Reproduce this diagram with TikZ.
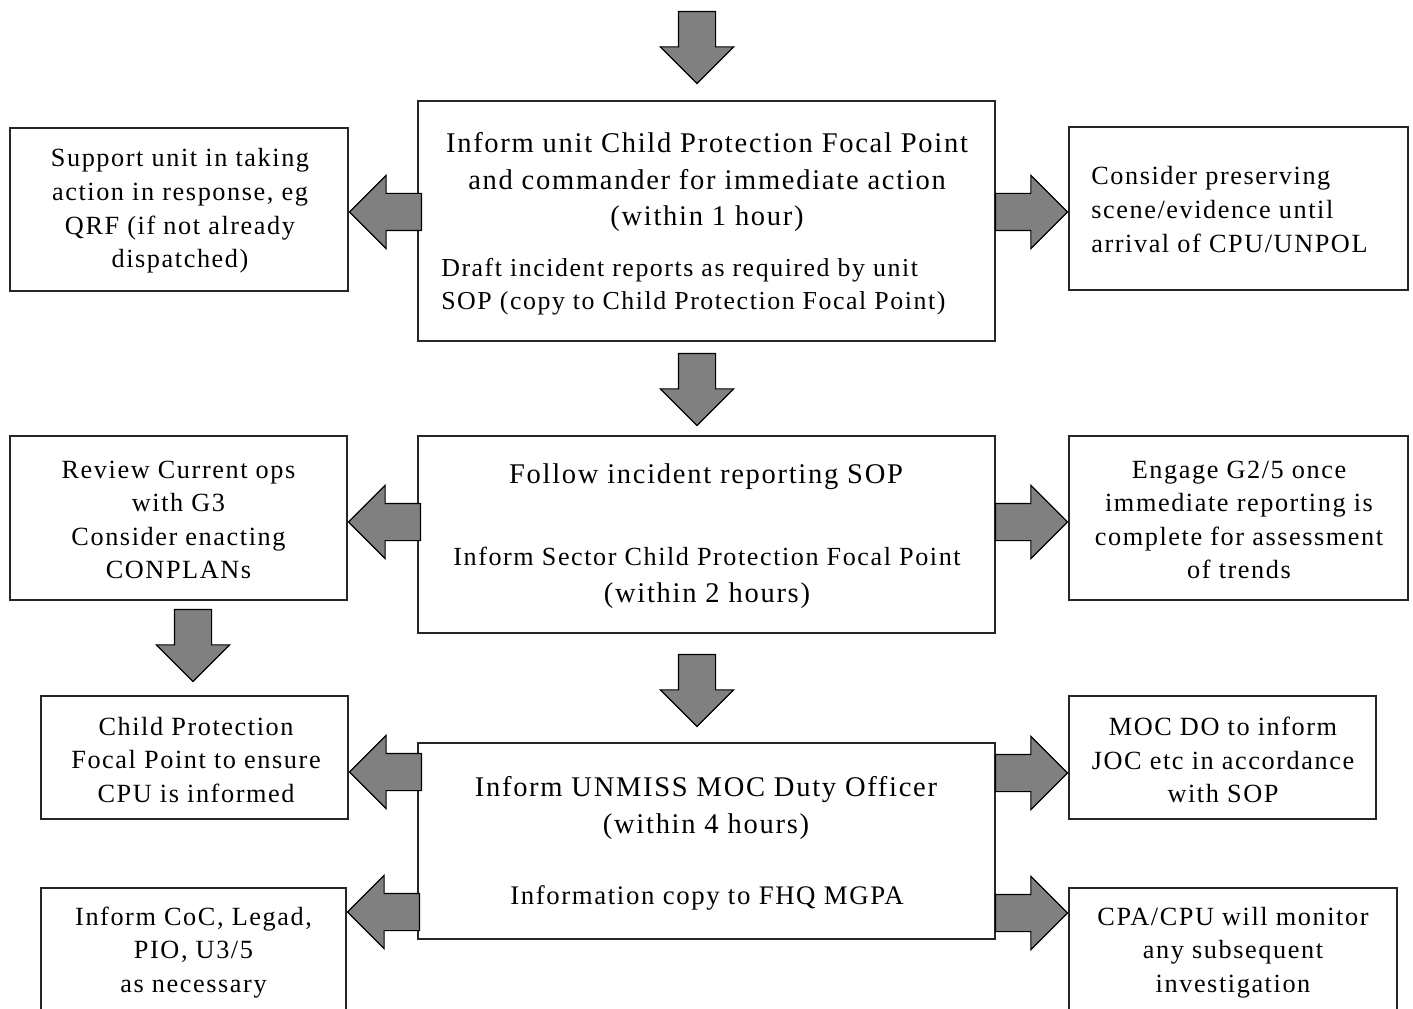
\documentclass[tikz,border=0pt]{standalone}
\usepackage{fontspec}
\setmainfont{Liberation Serif}[LetterSpace=6]
\usetikzlibrary{shapes.arrows, fit}
\definecolor{arrowgray}{RGB}{128,128,128}

\begin{document}
\begin{tikzpicture}[x=0.75pt,y=0.75pt,yscale=-1,xscale=1,
  box/.style={draw=black!85, line width=1pt, inner sep=0pt},
  blk/.style={single arrow, draw=black, fill=arrowgray, line width=0.9pt, inner sep=13.5pt, single arrow head extend=13.5pt, minimum height=54pt},
  larrow/.style={blk, shape border rotate=180, anchor=tip},
  rarrow/.style={blk, anchor=tip},
  darrow/.style={blk, shape border rotate=270, anchor=tip},
  maintxt/.style={inner sep=0pt, align=center, font=\fontsize{21.4}{27.4}\selectfont},
  sidetxt/.style={inner sep=0pt, align=center, font=\fontsize{19.7}{25.2}\selectfont}]
\clip (0,0) rectangle (1413,1009);
\fill[white] (0,0) rectangle (1413,1009);

%Shape: Rectangle (middle column)
\node[box, fit={(418,101) (995,341)}] (inf) {};
\node[box, fit={(418,436) (995,633)}] (fol) {};
\node[box, fit={(418,743) (995,939)}] (moc) {};
%Shape: Rectangle (left column)
\node[box, fit={(10,128) (348,291)}] (sup) {};
\node[box, fit={(10,436) (347,600)}] (rev) {};
\node[box, fit={(41,696) (348,819)}] (cpf) {};
\node[box, fit={(41,888) (346,1030)}] (coc) {};
%Shape: Rectangle (right column)
\node[box, fit={(1069,127) (1408,290)}] (pres) {};
\node[box, fit={(1069,436) (1408,600)}] (eng) {};
\node[box, fit={(1069,696) (1376,819)}] (mocdo) {};
\node[box, fit={(1069,888) (1397,1030)}] (cpa) {};

%Block Arrow down
\node[darrow] (a0) at ([xshift=-7.1pt,yshift=-12pt]inf.north) {};
\node[darrow] (a12) at ([xshift=-7.1pt,yshift=-6.75pt]fol.north) {};
\node[darrow] (a23) at ([xshift=-7.1pt,yshift=-11.25pt]moc.north) {};
\node[darrow] (arc) at ([xshift=-1.1pt,yshift=-9.75pt]cpf.north) {};
%Block Arrow left
\node[larrow] (a1l) at (sup.east |- 0,212) {};
\node[larrow] (a2l) at (rev.east |- 0,522) {};
\node[larrow] (a3l) at (cpf.east |- 0,772) {};
\node[larrow] (a4l) at (coc.east |- 0,912) {};
%Block Arrow right
\node[rarrow] (a1r) at (pres.west |- 0,212) {};
\node[rarrow] (a2r) at (eng.west |- 0,522) {};
\node[rarrow] (a3r) at (mocdo.west |- 0,773) {};
\node[rarrow] (a4r) at (cpa.west |- 0,913) {};

% Text Node
\node[maintxt] (inf-a) at (707,182) {Inform unit Child Protection Focal Point\\and commander for immediate action\\(within 1 hour)};
% Text Node
\node[sidetxt, font=\fontsize{19.4}{24.8}\selectfont, anchor=west, align=left] (inf-b) at (441,286.5) {Draft incident reports as required by unit\\SOP (copy to Child Protection Focal Point)};
% Text Node
\node[maintxt] (fol-a) at (706,477) {Follow incident reporting SOP};
% Text Node
\node[maintxt] (fol-b) at (707,578) {{\fontsize{19.6}{27.4}\selectfont Inform Sector Child Protection Focal Point}\\(within 2 hours)};
% Text Node
\node[maintxt] (moc-a) at (706,808) {Inform UNMISS MOC Duty Officer\\(within 4 hours)};
% Text Node
\node[maintxt, font=\fontsize{20.1}{27.4}\selectfont] (moc-b) at (707,898) {Information copy to FHQ MGPA};
% Text Node
\node[sidetxt] (sup-t) at (180,211) {Support unit in taking\\action in response, eg\\QRF (if not already\\dispatched)};
% Text Node
\node[sidetxt, anchor=west, align=left] (pres-t) at (1091,209.5) {Consider preserving\\scene/evidence until\\arrival of CPU/UNPOL};
% Text Node
\node[sidetxt] (rev-t) at (178.5,520) {Review Current ops\\with G3\\Consider enacting\\CONPLANs};
% Text Node
\node[sidetxt] (eng-t) at (1239,520) {Engage G2/5 once\\immediate reporting is\\complete for assessment\\of trends};
% Text Node
\node[sidetxt] (cpf-t) at (196,760) {Child Protection\\Focal Point to ensure\\CPU is informed};
% Text Node
\node[sidetxt] (mocdo-t) at (1223,760) {MOC DO to inform\\JOC etc in accordance\\with SOP};
% Text Node
\node[sidetxt] (coc-t) at (193.5,952.5) {Inform CoC, Legad,\\PIO, U3/5\\as necessary};
% Text Node
\node[sidetxt] (cpa-t) at (1233,952.5) {CPA/CPU will monitor\\any subsequent\\investigation};

\end{tikzpicture}
\end{document}
